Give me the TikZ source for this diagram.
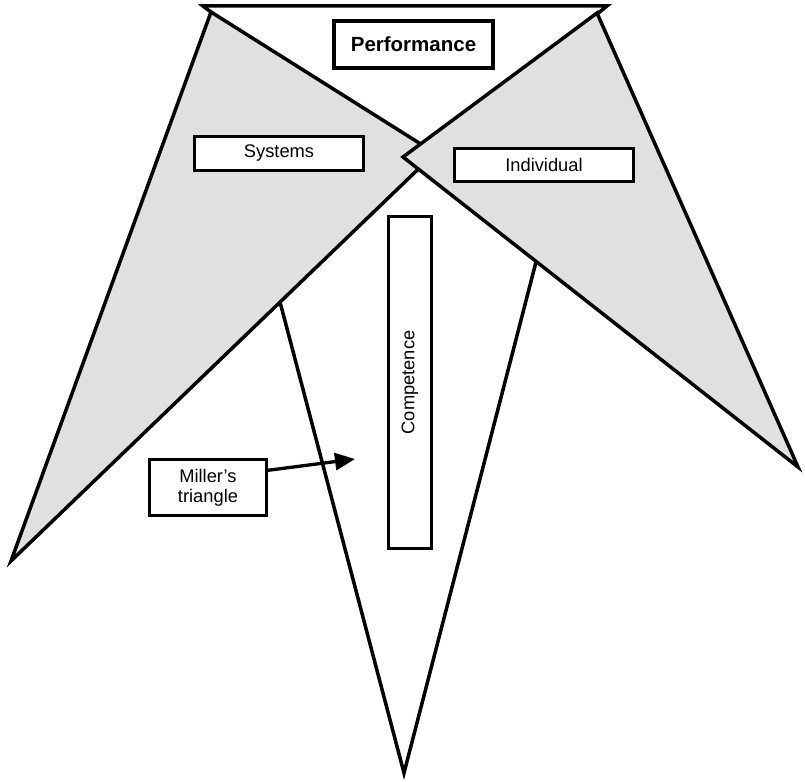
\documentclass[tikz,border=0pt]{standalone}
\usepackage{fontspec}
\setmainfont{Liberation Sans}
\usetikzlibrary{arrows.meta,calc}
\definecolor{wedgegray}{RGB}{224,224,224}
\begin{document}
\begin{tikzpicture}[x=1pt,y=-1pt,
  edge/.style={line width=3.5pt, draw=black},
  wedge/.style={edge, fill=wedgegray, line join=miter},
  label box/.style={draw=black, line width=3.3pt, fill=white, inner sep=0pt,
    font=\fontsize{18.3}{20.3}\selectfont, align=center},
  pointer/.style={line width=3.3pt, -{Triangle[length=20pt,width=17pt]}}]
\useasboundingbox (0,0) rectangle (805,781);
\fill[white] (0,0) rectangle (805,781);

% corner points of the four triangles
\coordinate (pL) at (203,6);
\coordinate (pR) at (607,6);
\coordinate (pA) at (410,165);
\coordinate (sT) at (211,12);
\coordinate (sB) at (11,561);
\coordinate (sA) at (435,153);
\coordinate (iT) at (597,13);
\coordinate (iB) at (798,467);
\coordinate (iA) at (403,157);
\coordinate (mL) at (280,302);
\coordinate (mR) at (536,262);
\coordinate (mB) at (404,773);

% performance triangle (its sides run under the wedges)
\draw[edge] (pL) -- (pR) -- (pA) -- cycle;
% Miller's triangle, sides tucked under the wedges
\draw[edge] ($(mB)!1.02!(mL)$) -- (mB) -- ($(mB)!1.02!(mR)$);
% systems and individual wedges
\draw[wedge] (sT) -- (sB) -- (sA) -- cycle;
\draw[wedge] (iT) -- (iB) -- (iA) -- cycle;

% labels
\node[label box, line width=4pt, font=\bfseries\fontsize{20.5}{24}\selectfont,
  minimum width=159pt, minimum height=47pt] (perf) at (413.5,44.5) {Performance};
\node[label box, minimum width=168.7pt, minimum height=33.7pt] (sys) at (279,153.5) {Systems};
\node[label box, minimum width=178.7pt, minimum height=32.7pt] (ind) at (544,165) {Individual};
\node[label box, rotate=90, minimum width=331.7pt, minimum height=42.7pt] (comp) at (410,382.5) {Competence};
\node[label box, minimum width=116.7pt, minimum height=55.7pt] (mil) at (208,487.5) {Miller’s\\triangle};

\coordinate (mtip) at (355,459);
\draw[pointer] (mil.16) -- (mtip);
\end{tikzpicture}
\end{document}
